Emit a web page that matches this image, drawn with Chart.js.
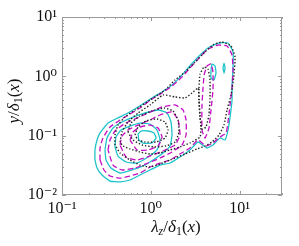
<!DOCTYPE html>
<html><head><meta charset="utf-8">
<script src="https://cdn.jsdelivr.net/npm/chart.js@4/dist/chart.umd.min.js"></script>
<style>html,body{margin:0;padding:0;background:#fff;}#wrap{width:299px;height:246px;}</style>
</head><body><div id="wrap"><canvas id="c" width="299" height="246"></canvas></div>
<script>
// ---- data (x = lambda_z/delta_1, y = y/delta_1) ----
const xTickVals = [0.1, 1, 10];
const xTickLabels = ['10\u207B\u00B9', '10\u2070', '10\u00B9'];
const yTickVals = [0.01, 0.1, 1, 10];
const yTickLabels = ['10\u207B\u00B2', '10\u207B\u00B9', '10\u2070', '10\u00B9'];

// cyan solid contours
const cyan1 = [[0.235,0.0389],[0.235,0.0574],[0.248,0.0845],[0.268,0.111],[0.330,0.163],[0.427,0.199],[0.553,0.241],[0.718,0.304],[1.031,0.432],[1.338,0.544],[1.733,0.714],[2.244,1.05],[2.627,1.383],[3.405,2.119],[4.40,3.0],[5.71,3.64],[7.40,3.64],[8.43,2.572],[8.43,1.383],[8.215,0.714],[8.215,0.399],[7.80,0.206],[7.40,0.1245],[6.85,0.0845],[6.01,0.0913],[5.01,0.0697],[4.287,0.0620],[3.405,0.0782],[2.76,0.0574],[2.13,0.0437],[1.645,0.0346],[1.27,0.0320],[0.979,0.0264],[0.755,0.0217],[0.583,0.0179],[0.450,0.0166],[0.347,0.0172],[0.282,0.0217],[0.248,0.0285]];
const cyan2 = [[0.305,0.0574],[0.321,0.0913],[0.375,0.1344],[0.474,0.170],[0.630,0.206],[0.861,0.241],[1.206,0.271],[1.522,0.241],[1.688,0.170],[1.733,0.1026],[1.645,0.0670],[1.372,0.0511],[1.059,0.0389],[0.816,0.0308],[0.614,0.0264],[0.450,0.0235],[0.356,0.0285],[0.313,0.0389]];
const cyan3 = [[0.395,0.0645],[0.405,0.0949],[0.462,0.1245],[0.583,0.1452],[0.755,0.1632],[0.979,0.157],[1.174,0.1245],[1.27,0.0845],[1.174,0.0574],[0.931,0.0437],[0.699,0.0346],[0.5255,0.0360],[0.427,0.0454]];
const cyan4 = [[0.718,0.1067],[0.775,0.1198],[0.931,0.1198],[1.086,0.1108],[1.144,0.0913],[1.031,0.0752],[0.816,0.0752],[0.736,0.0845]];
const cyan5 = [[4.76,1.28],[4.89,1.611],[5.28,1.49],[5.42,1.135],[5.14,0.867],[4.76,0.937]];
const cyan6 = [[6.50,1.383],[6.67,1.675],[6.85,1.383],[6.67,1.135]];

// magenta dashed contours
const mag1 = [[0.268,0.0389],[0.268,0.0620],[0.289,0.0913],[0.347,0.1397],[0.450,0.184],[0.583,0.2318],[0.755,0.2928],[1.031,0.415],[1.338,0.523],[1.733,0.687],[2.244,0.9715],[2.76,1.383],[3.58,2.119],[4.40,2.885],[5.71,3.37],[7.215,3.24],[8.215,2.29],[8.43,1.28],[8.215,0.6355],[7.80,0.329],[7.40,0.170],[7.03,0.1108],[6.01,0.0949],[5.01,0.0752],[4.177,0.0670],[3.405,0.0845],[2.76,0.0620],[2.13,0.0491],[1.645,0.0389],[1.27,0.0346],[0.979,0.0296],[0.755,0.0235],[0.583,0.0209],[0.450,0.0193],[0.347,0.0209],[0.297,0.0264]];
const mag2 = [[0.330,0.0574],[0.347,0.0845],[0.395,0.1198],[0.499,0.157],[0.664,0.1913],[0.931,0.241],[1.338,0.3044],[1.875,0.329],[2.303,0.271],[2.494,0.184],[2.494,0.1026],[2.244,0.0697],[1.733,0.0531],[1.27,0.0420],[0.931,0.0346],[0.664,0.0285],[0.474,0.0264],[0.375,0.0320]];
const mag3 = [[0.450,0.0697],[0.474,0.0987],[0.553,0.1245],[0.718,0.151],[0.979,0.184],[1.27,0.223],[1.733,0.2507],[2.027,0.184],[2.13,0.1026],[1.875,0.0697],[1.445,0.0574],[0.979,0.0454],[0.699,0.0389],[0.5255,0.0437]];
const mag4 = [[0.583,0.0845],[0.630,0.1152],[0.755,0.1397],[0.979,0.151],[1.206,0.1344],[1.338,0.0949],[1.206,0.0670],[0.931,0.0574],[0.699,0.0574]];
const mag5 = [[3.97,1.05],[4.287,1.49],[4.76,1.611],[5.01,1.184],[5.01,0.588],[4.76,0.271],[4.515,0.1344],[4.07,0.0913],[3.77,0.1245],[3.77,0.329],[3.87,0.6355]];

// black dotted contours
const blk1 = [[0.395,0.0697],[0.395,0.1026],[0.427,0.151],[0.512,0.206],[0.664,0.271],[0.979,0.399],[1.445,0.588],[1.875,0.867],[2.43,1.184],[3.15,1.74],[4.07,2.572],[5.01,3.37],[6.33,3.79],[8.005,3.24],[8.87,2.119],[8.64,1.05],[8.005,0.485],[7.215,0.271],[6.67,0.151],[5.856,0.1026],[4.89,0.0782],[4.07,0.0670],[3.318,0.0597],[2.43,0.0491],[1.645,0.0389],[1.27,0.0333],[0.979,0.0296],[0.755,0.0320],[0.583,0.0389],[0.450,0.0511]];
const blk2 = [[0.450,0.0782],[0.474,0.1152],[0.553,0.170],[0.718,0.241],[0.979,0.329],[1.372,0.485],[1.875,0.449],[2.43,0.432],[2.907,0.523],[3.405,0.6355],[3.488,0.399],[3.58,0.223],[3.674,0.1344],[3.58,0.0949],[2.76,0.0752],[2.13,0.0645],[1.645,0.0574],[1.27,0.0511],[0.979,0.0491],[0.755,0.0531],[0.583,0.0597],[0.4865,0.0670]];
const blk3 = [[3.488,0.6355],[3.58,1.092],[3.97,1.434],[4.40,1.331],[4.64,0.867],[4.64,0.432],[4.515,0.223],[4.177,0.1397],[3.77,0.1294],[3.58,0.199],[3.488,0.399]];
const blk4 = [[0.553,0.1152],[0.598,0.1632],[0.755,0.2145],[1.031,0.2607],[1.408,0.2928],[1.778,0.2607],[2.027,0.184],[2.075,0.1152],[1.875,0.0782],[1.483,0.0670],[1.086,0.0645],[0.795,0.0697],[0.630,0.0845]];
const blk5 = [[0.664,0.1026],[0.718,0.1397],[0.884,0.177],[1.174,0.1913],[1.445,0.170],[1.562,0.1245],[1.445,0.0913],[1.144,0.0782],[0.861,0.0782],[0.718,0.0845]];

// ---- styles ----
const CY = '#1ec3ca', MG = '#c40ec4', BK = '#222222';
const DOT = [1.4, 1.9], DASH = [5.5, 3];
const groups = [
  {pts: blk1, color: BK, dash: DOT}, {pts: blk2, color: BK, dash: DOT},
  {pts: blk3, color: BK, dash: DOT}, {pts: blk4, color: BK, dash: DOT},
  {pts: blk5, color: BK, dash: DOT},
  {pts: mag1, color: MG, dash: DASH}, {pts: mag2, color: MG, dash: DASH},
  {pts: mag3, color: MG, dash: DASH}, {pts: mag4, color: MG, dash: DASH},
  {pts: mag5, color: MG, dash: DASH},
  {pts: cyan1, color: CY, dash: []}, {pts: cyan2, color: CY, dash: []},
  {pts: cyan3, color: CY, dash: []}, {pts: cyan4, color: CY, dash: []},
  {pts: cyan5, color: CY, dash: []}, {pts: cyan6, color: CY, dash: []}
];
const datasets = groups.map(g => ({
  data: g.pts.concat([g.pts[0]]).map(p => ({x: p[0], y: p[1]})),
  showLine: true, borderColor: g.color, borderWidth: g.color === BK ? 1.4 : 1.3, borderDash: g.dash,
  pointRadius: 0, tension: 0.15, fill: false
}));

const SERIF = '"Liberation Serif", "DejaVu Serif", serif';

const framePlugin = {
  id: 'frame',
  afterDatasetsDraw(chart) {
    const ctx = chart.ctx, a = chart.chartArea;
    const xs = chart.scales.x, ys = chart.scales.y;
    ctx.save();
    ctx.strokeStyle = '#9a9a9a'; ctx.lineWidth = 1; ctx.setLineDash([]);
    ctx.strokeRect(Math.round(a.left) + 0.5, Math.round(a.top) + 0.5, Math.round(a.right - a.left) - 1, Math.round(a.bottom - a.top) - 1);
    ctx.beginPath();
    for (let d = -1; d <= 1; d++) for (let m = 1; m <= 9; m++) {
      const v = m * Math.pow(10, d);
      if (v > xs.max * 1.0001) continue;
      const px = Math.round(xs.getPixelForValue(v)) + 0.5, L = m === 1 ? 4 : 2;
      ctx.moveTo(px, a.bottom); ctx.lineTo(px, a.bottom - L);
      ctx.moveTo(px, a.top); ctx.lineTo(px, a.top + L);
    }
    for (let d = -2; d <= 0; d++) for (let m = 1; m <= 9; m++) {
      const v = m * Math.pow(10, d);
      const py = Math.round(ys.getPixelForValue(v)) + 0.5, L = m === 1 ? 4 : 2;
      ctx.moveTo(a.left, py); ctx.lineTo(a.left + L, py);
      ctx.moveTo(a.right, py); ctx.lineTo(a.right - L, py);
    }
    ctx.stroke();
    ctx.restore();
  },
  afterDraw(chart) {
    const ctx = chart.ctx, a = chart.chartArea;
    function rich(parts) {
      let w = 0;
      parts.forEach(p => { ctx.font = p.f; p.w = ctx.measureText(p.t).width; w += p.w; });
      return w;
    }
    function drawRich(parts, cx, by) {
      const w = rich(parts); let x = cx - w / 2;
      parts.forEach(p => { ctx.font = p.f; ctx.fillText(p.t, x, by + (p.dy || 0)); x += p.w; });
    }
    const big = 'italic 17px ' + SERIF, bigUp = '17px ' + SERIF, sub = 'italic 12px ' + SERIF, subUp = '12px ' + SERIF;
    ctx.save();
    ctx.fillStyle = '#111'; ctx.textBaseline = 'alphabetic';
    drawRich([{t:'\u03BB', f:big}, {t:'z', f:sub, dy:3}, {t:'/', f:bigUp}, {t:'\u03B4', f:big}, {t:'1', f:subUp, dy:3}, {t:'(', f:bigUp}, {t:'x', f:big}, {t:')', f:bigUp}], (a.left + a.right) / 2 + 4, 232);
    ctx.translate(19, (a.top + a.bottom) / 2 - 5);
    ctx.rotate(-Math.PI / 2);
    drawRich([{t:'y', f:big}, {t:'/', f:bigUp}, {t:'\u03B4', f:big}, {t:'1', f:subUp, dy:3}, {t:'(', f:bigUp}, {t:'x', f:big}, {t:')', f:bigUp}], 0, 0);
    ctx.restore();
  }
};

new Chart(document.getElementById('c'), {
  type: 'scatter',
  data: {datasets},
  options: {
    responsive: false, animation: false, devicePixelRatio: 1,
    layout: {padding: {left: 0, top: 17, right: 17, bottom: 0}},
    plugins: {legend: {display: false}, tooltip: {enabled: false}},
    scales: {
      x: {
        type: 'logarithmic', min: 0.1, max: 30,
        afterBuildTicks: s => { s.ticks = xTickVals.map(v => ({value: v})); },
        afterFit: s => { s.height = 51; },
        grid: {display: false, drawTicks: false}, border: {display: false},
        ticks: {color: '#111', padding: 4, maxRotation: 0, autoSkip: false,
          font: {family: SERIF, size: 16},
          callback: (v, i) => xTickLabels[i]}
      },
      y: {
        type: 'logarithmic', min: 0.01, max: 10,
        afterBuildTicks: s => { s.ticks = yTickVals.map(v => ({value: v})); },
        afterFit: s => { s.width = 62; },
        grid: {display: false, drawTicks: false}, border: {display: false},
        ticks: {color: '#111', padding: 5, autoSkip: false,
          font: {family: SERIF, size: 16},
          callback: (v, i) => yTickLabels[i]}
      }
    }
  },
  plugins: [framePlugin]
});
</script>
</body></html>
